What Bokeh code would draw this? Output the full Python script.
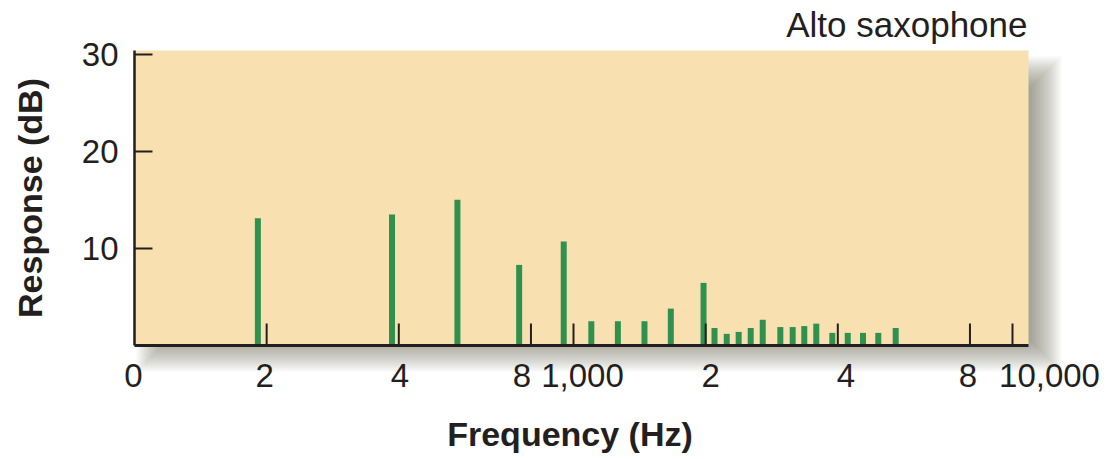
import math
from bokeh.plotting import figure
from bokeh.models import LogAxis, FixedTicker, CustomJSTickFormatter, Range1d, Label
from bokeh.embed import file_html
from bokeh.resources import INLINE

# ---------------- data ----------------
harmonic_freq_hz = [191, 386, 544, 752, 950, 1098, 1262, 1451, 1666, 1978,
                    2095, 2234, 2378, 2533, 2698, 2959, 3157, 3355, 3573, 3886,
                    4214, 4565, 4946, 5419]
response_db = [13.1, 13.5, 15.0, 8.3, 10.7, 2.5, 2.5, 2.5, 3.8, 6.45,
               1.8, 1.2, 1.4, 1.8, 2.65, 1.9, 1.9, 2.0, 2.25, 1.3,
               1.3, 1.3, 1.3, 1.8]
x_tick_freqs = [100, 200, 400, 800, 1000, 2000, 4000, 8000, 10000]
x_tick_labels = ["0", "2", "4", "8", "1,000", "2", "4", "8", "10,000"]
y_ticks = [10, 20, 30]
title_text = "Alto saxophone"
x_title = "Frequency (Hz)"
y_title = "Response (dB)"

# ---------------- layout / style ----------------
FONT = "Liberation Sans"
INK = "#231f20"
GREEN = "#2f914e"
BEIGE = "#f8e0b0"
SHADOW = "#50582f"

FIG_W, FIG_H = 1109, 459
X0_PX, PX_PER_DEC = 134, 439.0      # canvas px of 100 Hz, px per decade
Y0_PX, PX_PER_DB = 345, 9.71        # canvas px of 0 dB, px per dB
PANEL_TOP_PX = 50
PANEL_RIGHT_PX = 1028


def f_at(px):
    return x_tick_freqs[0] * 10 ** ((px - X0_PX) / PX_PER_DEC)


def db_at(py):
    return (Y0_PX - py) / PX_PER_DB


x_start = x_tick_freqs[0]
x_panel_end = f_at(PANEL_RIGHT_PX)
y_top = db_at(PANEL_TOP_PX)

# the frame covers the whole canvas; axes are pinned with fixed_location
p = figure(width=FIG_W, height=FIG_H, x_axis_type="log", title=None,
           x_range=Range1d(f_at(0), f_at(FIG_W)),
           y_range=Range1d(db_at(FIG_H), db_at(0)),
           output_backend="svg", toolbar_location=None,
           min_border_left=0, min_border_top=0,
           min_border_right=0, min_border_bottom=0)
p.background_fill_color = "white"
p.border_fill_color = "white"
p.outline_line_color = None
p.xgrid.visible = False
p.ygrid.visible = False

# ---- drop shadow of the panel (stacked translucent rectangles) ----
SH_L, SH_R, SH_T, SH_B, BLUR, N = 151, 1046, 71, 356, 16, 16
sl, sr, st, sb = [], [], [], []
for k in range(N):
    d = -BLUR + 2 * BLUR * (k + 0.5) / N
    sl.append(f_at(SH_L + d)); sr.append(f_at(SH_R - d))
    st.append(db_at(SH_T + d)); sb.append(db_at(SH_B - d))
p.quad(left=sl, right=sr, top=st, bottom=sb, fill_color=SHADOW,
       fill_alpha=0.6 / N, line_color=None)

# ---- panel ----
p.quad(left=[x_start], right=[x_panel_end], bottom=[0], top=[y_top],
       fill_color=BEIGE, line_color=None)

# ---- harmonic bars ----
p.segment(x0=harmonic_freq_hz, y0=[0] * len(response_db),
          x1=harmonic_freq_hz, y1=response_db,
          line_width=6, line_color=GREEN, line_cap="butt")

# ---- inward tick marks on the frequency axis ----
tick_h = 22 / PX_PER_DB
ticks = x_tick_freqs[1:]
p.segment(x0=ticks, y0=[0] * len(ticks), x1=ticks, y1=[tick_h] * len(ticks),
          line_width=2, line_color=INK)

# ---- x axis line ----
xa = p.xaxis[0]
xa.ticker = FixedTicker(ticks=[])
xa.fixed_location = 0
xa.bounds = (x_start, x_panel_end)
xa.axis_line_width = 3
xa.axis_line_color = INK
xa.major_tick_line_color = None
xa.minor_tick_line_color = None

# ---- x tick labels (hand-placed offsets as in the original) ----
label_shift_px = [-1, -2, 1, -9, 9, 5, 8, -2, 37]
anchors = [f * 10 ** (s / PX_PER_DEC) for f, s in zip(x_tick_freqs, label_shift_px)]
fmt = CustomJSTickFormatter(args=dict(anchors=anchors, labels=x_tick_labels), code="""
let best = 0, bd = Infinity;
for (let i = 0; i < anchors.length; i++) {
  const d = Math.abs(Math.log(anchors[i]) - Math.log(tick));
  if (d < bd) { bd = d; best = i; }
}
return labels[best];
""")
xl = LogAxis(ticker=FixedTicker(ticks=anchors), formatter=fmt, fixed_location=0,
             axis_line_color=None, major_tick_line_color=None,
             minor_tick_line_color=None, major_label_standoff=12,
             major_label_text_font=FONT, major_label_text_font_size="33px",
             major_label_text_color=INK)
p.add_layout(xl, "below")

# ---- x axis title ----
xt = LogAxis(ticker=FixedTicker(ticks=[]), fixed_location=0,
             bounds=(x_start, f_at(1005)), axis_line_color=None,
             major_tick_line_color=None, minor_tick_line_color=None,
             axis_label=x_title, axis_label_standoff=69,
             axis_label_text_font=FONT, axis_label_text_font_size="34px",
             axis_label_text_font_style="bold", axis_label_text_color=INK)
p.add_layout(xt, "below")

# ---- y axis ----
ya = p.yaxis[0]
ya.fixed_location = x_start
ya.ticker = FixedTicker(ticks=y_ticks)
ya.bounds = (0, y_top)
ya.axis_line_width = 2.5
ya.axis_line_color = INK
ya.major_tick_in = 18
ya.major_tick_out = 0
ya.major_tick_line_width = 2
ya.major_tick_line_color = INK
ya.minor_tick_line_color = None
ya.major_label_standoff = 16
ya.major_label_text_font = FONT
ya.major_label_text_font_size = "33px"
ya.major_label_text_color = INK
ya.axis_label = y_title
ya.axis_label_standoff = 30
ya.axis_label_text_font = FONT
ya.axis_label_text_font_size = "34px"
ya.axis_label_text_font_style = "bold"
ya.axis_label_text_color = INK

# ---- title (upper right, above the panel) ----
p.add_layout(Label(x=f_at(1027), y=db_at(24), text=title_text,
                   text_align="right", text_baseline="alphabetic",
                   text_font=FONT, text_font_size="35px", text_color=INK))

open("out.html", "w").write(file_html(p, INLINE))
